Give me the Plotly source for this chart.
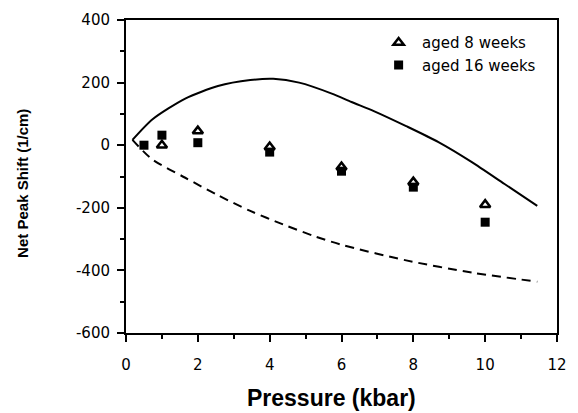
import plotly.graph_objects as go

# Measured peak shifts (1/cm) vs. pressure (kbar)
pressure_8wk = [1, 2, 4, 6, 8, 10]
shift_8wk = [0, 45, -6, -70, -118, -190]

pressure_16wk = [0.5, 1, 2, 4, 6, 8, 10]
shift_16wk = [0, 32, 8, -22, -83, -134, -246]

# Model curves
model_upper_p = [0.18, 0.74, 1.65, 2.56, 3.46, 4.1, 4.82, 5.73, 6.28, 6.9, 7.8, 8.7, 9.63, 10.54, 11.45]
model_upper_s = [17, 83, 149, 189, 208, 212, 200, 165, 138, 109, 61, 10, -54, -124, -194]

model_lower_p = [0.18, 0.73, 1.65, 2.56, 3.46, 4.37, 5.28, 6.0, 7.8, 9.63, 11.45]
model_lower_s = [17, -45, -104, -160, -210, -253, -292, -318, -368, -407, -436]

# Axis ticks
x_ticks = [0, 2, 4, 6, 8, 10, 12]
x_ticktext = ["0", "2", "4", "6", "8", "10", "12"]
y_ticks = [-600, -400, -200, 0, 200, 400]
y_ticktext = ["-600", "-400", "-200", "0", "200", "400"]

FONT = "Liberation Sans, Arial, Helvetica, sans-serif"
LABEL_FONT = "DejaVu Sans, Verdana, sans-serif"

fig = go.Figure()

fig.add_trace(go.Scatter(
    x=model_upper_p, y=model_upper_s, mode="lines",
    line=dict(color="black", width=2, shape="spline", smoothing=0.7),
    showlegend=False, hoverinfo="skip",
))
fig.add_trace(go.Scatter(
    x=model_lower_p, y=model_lower_s, mode="lines",
    line=dict(color="black", width=2, dash="9px,6px", shape="spline", smoothing=0.8),
    showlegend=False, hoverinfo="skip",
))
fig.add_trace(go.Scatter(
    x=pressure_8wk, y=shift_8wk, mode="markers", name="aged 8 weeks",
    marker=dict(symbol="triangle-up-open", size=9, color="black",
                line=dict(width=2.5, color="black")),
))
fig.add_trace(go.Scatter(
    x=pressure_16wk, y=shift_16wk, mode="markers", name="aged 16 weeks",
    marker=dict(symbol="square", size=9, color="black"),
))

axis_common = dict(
    showgrid=False, zeroline=False,
    showline=True, linecolor="black", linewidth=2, mirror=True,
    ticks="outside", ticklen=7, tickwidth=2, tickcolor="black",
    tickfont=dict(family=LABEL_FONT, size=15, color="black"),
)

fig.update_xaxes(
    range=[0, 12], tickvals=x_ticks, ticktext=x_ticktext,
    minor=dict(ticks="outside", ticklen=4, tickwidth=2, dtick=1, tickcolor="black"),
    ticklabelstandoff=10,
    **axis_common,
)
fig.update_yaxes(
    range=[-600, 400], tickvals=y_ticks, ticktext=y_ticktext,
    minor=dict(ticks="outside", ticklen=4, tickwidth=2, dtick=100, tickcolor="black"),
    ticklabelstandoff=4,
    **axis_common,
)

fig.add_annotation(
    text="<b>Pressure (kbar)</b>", xref="paper", yref="paper",
    x=(336 - 126) / 441, y=-(398 - 333) / 314, xanchor="center", yanchor="middle",
    showarrow=False, font=dict(family=FONT, size=23, color="black"),
)
fig.add_annotation(
    text="<b>Net Peak Shift (1/cm)</b>", xref="paper", yref="paper",
    x=-(126 - 20) / 441, y=(333 - 183) / 314, xanchor="center", yanchor="middle",
    textangle=-90, showarrow=False, font=dict(family=FONT, size=15, color="black"),
)

fig.update_layout(
    width=578, height=413,
    margin=dict(l=126, r=11, t=19, b=80),
    paper_bgcolor="white", plot_bgcolor="white",
    legend=dict(
        x=0.578, y=0.98, xanchor="left", yanchor="top",
        bgcolor="rgba(0,0,0,0)", borderwidth=0,
        font=dict(family=LABEL_FONT, size=15, color="black"),
        itemwidth=37, tracegroupgap=0,
    ),
)

fig.write_html("out.html")
